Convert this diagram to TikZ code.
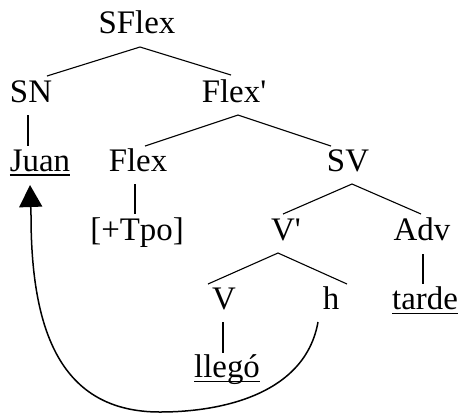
\documentclass[tikz,border=0pt]{standalone}
\usepackage{fontspec}
\setmainfont{Liberation Serif}[Ligatures=TeXOff]
\usetikzlibrary{calc,arrows.meta}
\begin{document}
\begin{tikzpicture}[x=1bp,y=-1bp,
  lab/.style={anchor=base,inner sep=0pt,outer sep=0pt,font=\fontsize{33}{33}\selectfont},
  branch/.style={line width=1.1bp},
  uline/.style={line width=1.5bp},
  move/.style={line width=1.5bp,-{Triangle[length=22bp,width=23bp]}}]
\useasboundingbox (0,0) rectangle (462,414);
% nodes
\node[lab] (SFlex) at (137,33) {SFlex};
\node[lab] (SN) at (31,102) {SN};
\node[lab] (Flexp) at (234,102) {Flex'};
\node[lab] (Juan) at (40,171) {Juan};
\node[lab] (Flex) at (138,171) {Flex};
\node[lab] (SV) at (348,171) {SV};
\node[lab] (Tpo) at (137,240) {[+Tpo]};
\node[lab] (Vp) at (286,240) {V'};
\node[lab] (Adv) at (422,240) {Adv};
\node[lab] (V) at (224,309) {V};
\node[lab] (h) at (331,309) {h};
\node[lab] (tarde) at (425,309) {tarde};
\node[lab] (llego) at (227,377) {llegó};
% underlines
\draw[uline] ($(Juan.base west)+(0,4)$) -- ($(Juan.base east)+(0,4)$);
\draw[uline] ($(tarde.base west)+(0,4.5)$) -- ($(tarde.base east)+(0,4.5)$);
\draw[uline] ($(llego.base west)+(0,4.5)$) -- ($(llego.base east)+(0,4.5)$);
% branches
\draw[branch] ($(SN.base)+(16,-26)$) -- ($(SFlex.base)+(3,14)$) -- ($(Flexp.base)+(-3,-27)$);
\draw[branch] ($(SN.base)+(-3,13)$) -- ($(Juan.base)+(-12,-25)$);
\draw[branch] ($(Flex.base)+(7,-25)$) -- ($(Flexp.base)+(4,13)$) -- ($(SV.base)+(-17,-25)$);
\draw[branch] ($(Flex.base)+(-3,13)$) -- ($(Tpo.base)+(-2,-26)$);
\draw[branch] ($(Vp.base)+(-3,-26)$) -- ($(SV.base)+(4,13)$) -- ($(Adv.base)+(-1,-26)$);
\draw[branch] ($(V.base)+(-16,-25)$) -- ($(Vp.base)+(-8,13)$) -- ($(h.base)+(16,-25)$);
\draw[branch] ($(Adv.base)+(1,14)$) -- ($(tarde.base)+(-2,-25)$);
\draw[branch] ($(V.base)+(-1,13)$) -- ($(llego.base)+(-4,-24)$);
% movement arrow
\draw[move] ($(h.base)+(-13,13)$) .. controls (305,395) and (220,412) .. (160,412)
  .. controls (60,412) and (31,330) .. (31,215) -- ($(Juan.base)+(-10,14)$);
\end{tikzpicture}
\end{document}
